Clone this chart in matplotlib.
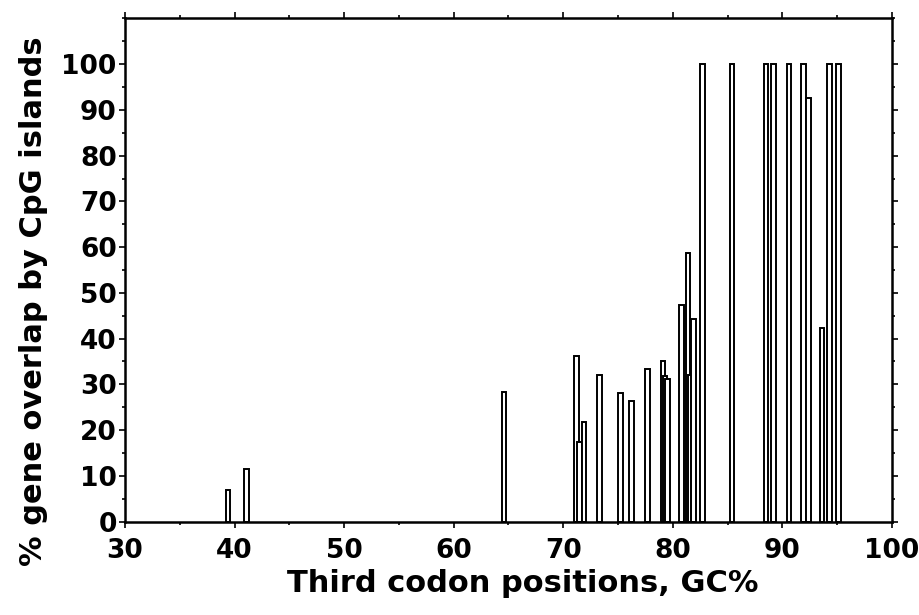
import matplotlib
matplotlib.use("Agg")
import matplotlib.pyplot as plt
from matplotlib.ticker import MultipleLocator

# third codon position GC% of each gene and % overlap by CpG islands
gc3 = [39.4, 41.1, 64.6, 71.2, 71.5, 71.9, 73.3, 75.2, 76.2, 77.7, 79.1, 79.3, 79.5,
       80.8, 81.4, 81.6, 81.9, 82.7, 85.4, 88.5, 89.2, 90.6, 91.9, 92.4, 93.6, 94.3, 95.1]
overlap = [7, 11.4, 28.3, 36.2, 17.4, 21.7, 32, 28.1, 26.4, 33.3, 35.2, 31.8, 31.1,
           47.4, 58.8, 32, 44.3, 100, 100, 100, 100, 100, 100, 92.7, 42.3, 100, 100]

plt.rcParams["font.family"] = ["DejaVu Sans"]
plt.rcParams["font.weight"] = "bold"

fig = plt.figure(figsize=(9.19, 6.15), dpi=100)
ax = fig.add_axes([0.136, 0.152, 0.8346, 0.818])

ax.bar(gc3, overlap, width=0.42, color="white", edgecolor="black", linewidth=1.4)

ax.set_xlim(30, 100)
ax.set_ylim(0, 110)
ax.set_xticks(range(30, 101, 10))
ax.set_yticks(range(0, 101, 10))
ax.xaxis.set_minor_locator(MultipleLocator(5))
ax.yaxis.set_minor_locator(MultipleLocator(5))
ax.tick_params(which="both", direction="out", top=True, right=True, width=1.2)
ax.tick_params(which="major", length=4, labelsize=19, pad=2)
ax.tick_params(axis="x", which="major", pad=8)
ax.tick_params(which="minor", length=2)
for s in ax.spines.values():
    s.set_linewidth(1.8)
for lab in ax.get_xticklabels() + ax.get_yticklabels():
    lab.set_fontweight("bold")

ax.set_xlabel("Third codon positions, GC%", fontsize=22, fontweight="bold")
ax.set_ylabel("% gene overlap by CpG islands", fontsize=22, fontweight="bold")
ax.xaxis.set_label_coords(0.518, -0.094)
ax.yaxis.set_label_coords(-0.1, 0.438)

fig.savefig("out.png", dpi=100)
